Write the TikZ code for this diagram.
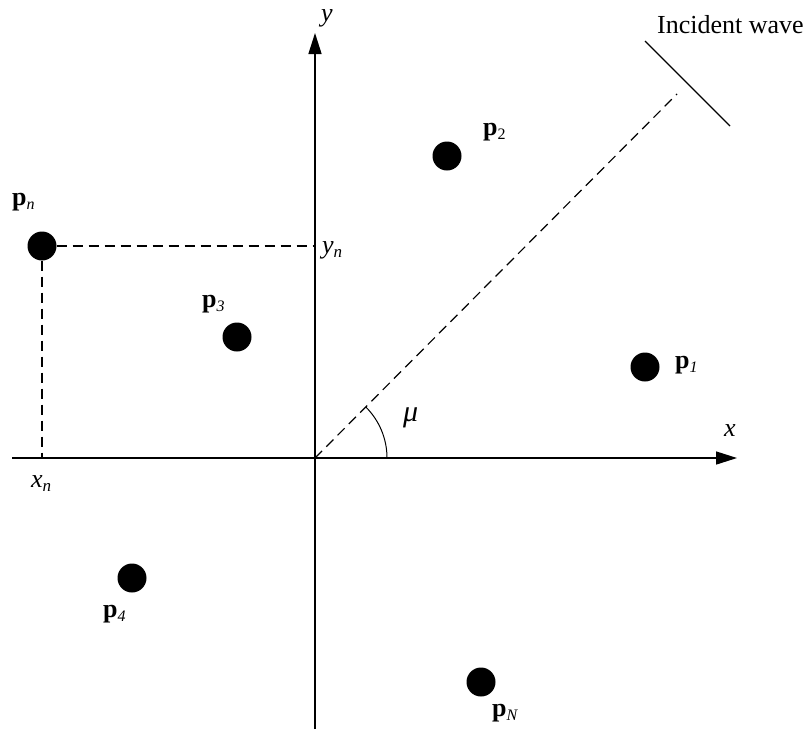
\documentclass[tikz,border=0pt]{standalone}
\usepackage{fontspec}
\setmainfont{Liberation Serif}
\usetikzlibrary{arrows.meta}
\newcommand{\lbl}[1]{\fontsize{26}{29}\selectfont #1}
\newcommand{\pt}[1]{\fontsize{26}{29}\selectfont\textbf{p}\raisebox{-4pt}{\fontsize{16}{16}\selectfont\itshape #1}}
\newcommand{\ptu}[1]{\fontsize{26}{29}\selectfont\textbf{p}\raisebox{-4pt}{\fontsize{16}{16}\selectfont #1}}
\begin{document}
\begin{tikzpicture}[x=1pt,y=-1pt,
  axis/.style={line width=1.5pt,-{Triangle[length=21pt,width=13pt]}},
  dashline/.style={line width=1.2pt,dash pattern=on 10pt off 6pt},
  dot/.style={circle,fill=black,inner sep=0pt,minimum size=29pt},
  txt/.style={anchor=base west,inner sep=0pt}]
\useasboundingbox (0,0) rectangle (805,729);
% coordinates
\coordinate (O) at (315,458);
\coordinate (xl) at (12,458);
\coordinate (xr) at (737,458);
\coordinate (yb) at (315,729);
\coordinate (yt) at (315,33);
\coordinate (wend) at (677,94);
\coordinate (w1) at (645,41);
\coordinate (w2) at (730,126);
\coordinate (yn) at (315,246);
\coordinate (xn) at (42,458);
% axes
\draw[axis] (xl) -- (xr);
\draw[axis] (yb) -- (yt);
% points
\node[dot] (pn) at (42,246) {};
\node[dot] (p3) at (237,337) {};
\node[dot] (p2) at (447,156) {};
\node[dot] (p1) at (645,367) {};
\node[dot] (p4) at (132,578) {};
\node[dot] (pN) at (481,682) {};
% dashed
\draw[dashline] (O) -- (wend);
\draw[dashline] (pn.east) -- (yn);
\draw[dashline] (pn.south) -- (xn);
% incident wave
\draw[line width=1.3pt] (w1) -- (w2);
% angle arc
\draw[line width=1pt] (387,458) arc[start angle=0,end angle=-45,radius=72];
% labels
\node[txt] (lwave) at (657,33) {\lbl{Incident wave}};
\node[txt] (ly) at (321,21) {\lbl{\itshape y}};
\node[txt] (lx) at (724,436) {\lbl{\itshape x}};
\node[txt] (lyn) at (322,253) {\lbl{\itshape y}\raisebox{-4pt}{\fontsize{17}{17}\selectfont\itshape n}};
\node[txt] (lxn) at (31,487) {\lbl{\itshape x}\raisebox{-4pt}{\fontsize{17}{17}\selectfont\itshape n}};
\node[txt] (lmu) at (403,421) {\fontsize{30}{32}\selectfont\itshape μ};
\node[txt] (lpn) at (12,205) {\pt{n}};
\node[txt] (lp3) at (202,307) {\pt{3}};
\node[txt] (lp2) at (483,135) {\ptu{2}};
\node[txt] (lp1) at (675,368) {\pt{1}};
\node[txt] (lp4) at (103,617) {\pt{4}};
\node[txt] (lpN) at (492,716) {\pt{N}};
\end{tikzpicture}
\end{document}
